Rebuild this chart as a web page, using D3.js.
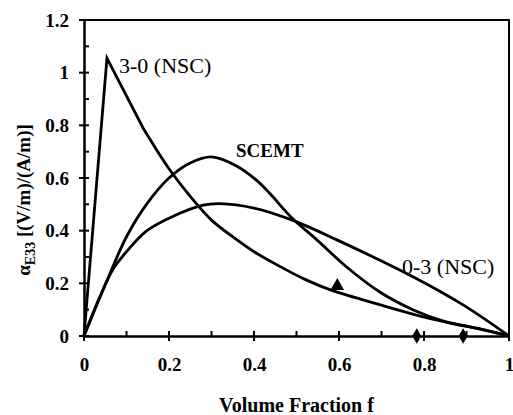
<!DOCTYPE html>
<html>
<head>
<meta charset="utf-8">
<script src="https://cdn.jsdelivr.net/npm/d3@7"></script>
<style>
  body { margin: 0; background: #fff; }
  svg { display: block; }
</style>
</head>
<body>
<svg id="chart" width="513" height="415"></svg>
<script>
// volume fraction / coefficient pairs
const nscF30 = [0, 0.054, 0.139, 0.2, 0.25, 0.3, 0.36, 0.4, 0.46, 0.52, 0.58, 0.7, 0.81, 0.93, 1.0];
const nscV30 = [0, 1.055, 0.79, 0.635, 0.53, 0.44, 0.365, 0.32, 0.265, 0.215, 0.175, 0.117, 0.068, 0.027, 0];

const scemtF = [0, 0.054, 0.1, 0.147, 0.2, 0.25, 0.3, 0.36, 0.407, 0.438, 0.49, 0.548, 0.618, 0.696, 0.775, 0.853, 0.932, 1.0];
const scemtV = [0, 0.21, 0.377, 0.5, 0.6, 0.657, 0.68, 0.645, 0.59, 0.54, 0.447, 0.365, 0.262, 0.167, 0.099, 0.053, 0.027, 0];

const nscF03 = [0, 0.035, 0.069, 0.1, 0.148, 0.21, 0.28, 0.32, 0.4, 0.49, 0.595, 0.775, 0.892, 1.0];
const nscV03 = [0, 0.14, 0.255, 0.32, 0.4, 0.455, 0.497, 0.503, 0.486, 0.44, 0.365, 0.224, 0.118, 0];

// measured points
const triF = [0.596];
const triV = [0.19];
const diaF = [0.783, 0.892];
const diaV = [0, 0];

const xTicks = [0, 0.2, 0.4, 0.6, 0.8, 1];
const yTicks = [0, 0.2, 0.4, 0.6, 0.8, 1, 1.2];

const FONT = "'Liberation Serif', 'DejaVu Serif', 'Times New Roman', serif";

const svg = d3.select('#chart');
const mLeft = 84, mTop = 20, mRight = 509, mBottom = 336;

const x = d3.scaleLinear().domain([0, 1]).range([mLeft, mRight]);
const y = d3.scaleLinear().domain([0, 1.2]).range([mBottom, mTop]);

const zip = (fs, vs) => fs.map((f, i) => [f, vs[i]]);
const fmt = d => d === 0 || d === 1 ? d3.format('d')(d) : d3.format('.1f')(d);

// frame (top and right)
svg.append('path')
  .attr('d', `M${mLeft},${mTop}H${mRight}V${mBottom}`)
  .attr('fill', 'none')
  .attr('stroke', '#000')
  .attr('stroke-width', 2);

// x axis
const xAxis = svg.append('g').attr('transform', `translate(0,${mBottom})`);
xAxis.call(d3.axisBottom(x).tickValues(xTicks).tickSize(0).tickPadding(22).tickFormat(fmt));
xAxis.attr('font-size', 19).attr('font-weight', 'bold');
xAxis.selectAll('text').style('font-family', FONT);
xAxis.select('.domain').attr('stroke-width', 2.5);
xAxis.selectAll('.tick line').remove();

const xt = svg.append('g');
d3.range(0, 11).forEach(i => {
  const v = i / 10;
  const major = i % 2 === 0;
  xt.append('line')
    .attr('x1', x(v)).attr('x2', x(v))
    .attr('y1', mBottom - 5).attr('y2', major ? mBottom + 5 : mBottom)
    .attr('stroke', '#000').attr('stroke-width', 2);
});

// y axis
const yAxis = svg.append('g').attr('transform', `translate(${mLeft},0)`);
yAxis.call(d3.axisLeft(y).tickValues(yTicks).tickSize(0).tickPadding(15).tickFormat(fmt));
yAxis.attr('font-size', 19).attr('font-weight', 'bold');
yAxis.selectAll('text').style('font-family', FONT);
yAxis.select('.domain').attr('stroke-width', 2.5);
yAxis.selectAll('.tick line').remove();

const yt = svg.append('g');
d3.range(0, 13).forEach(i => {
  const v = i / 10;
  const major = i % 2 === 0;
  yt.append('line')
    .attr('y1', y(v)).attr('y2', y(v))
    .attr('x1', major ? mLeft - 5 : mLeft).attr('x2', mLeft + 5)
    .attr('stroke', '#000').attr('stroke-width', 2);
});

// curves
const lineLin = d3.line().x(d => x(d[0])).y(d => y(d[1]));
const lineSmooth = d3.line().x(d => x(d[0])).y(d => y(d[1])).curve(d3.curveCatmullRom.alpha(0.5));

const p30 = zip(nscF30, nscV30);
svg.append('path')
  .attr('d', lineLin(p30.slice(0, 3)) + lineSmooth(p30.slice(2)).replace(/^M/, 'L'))
  .attr('fill', 'none').attr('stroke', '#000').attr('stroke-width', 2.8)
  .attr('stroke-linejoin', 'miter');

svg.append('path')
  .attr('d', lineSmooth(zip(scemtF, scemtV)))
  .attr('fill', 'none').attr('stroke', '#000').attr('stroke-width', 2.8);

svg.append('path')
  .attr('d', lineSmooth(zip(nscF03, nscV03)))
  .attr('fill', 'none').attr('stroke', '#000').attr('stroke-width', 2.8);

// markers
svg.selectAll('.tri')
  .data(zip(triF, triV))
  .enter().append('path')
  .attr('class', 'tri')
  .attr('transform', d => `translate(${x(d[0])},${y(d[1])})`)
  .attr('d', d3.symbol().type(d3.symbolTriangle).size(80))
  .attr('fill', '#000');

svg.selectAll('.dia')
  .data(zip(diaF, diaV))
  .enter().append('path')
  .attr('class', 'dia')
  .attr('transform', d => `translate(${x(d[0])},${y(d[1])})`)
  .attr('d', d3.symbol().type(d3.symbolDiamond).size(70))
  .attr('fill', '#000');

// curve labels
const lab = svg.append('g');
lab.append('text').attr('x', 119).attr('y', 73)
  .attr('font-size', 22).text('3-0 (NSC)');
lab.append('text').attr('x', 236).attr('y', 157)
  .attr('font-size', 19).attr('font-weight', 'bold').text('SCEMT');
lab.append('text').attr('x', 402).attr('y', 274)
  .attr('font-size', 22).text('0-3 (NSC)');

// axis titles
lab.append('text')
  .attr('x', (mLeft + mRight) / 2).attr('y', 412)
  .attr('text-anchor', 'middle')
  .attr('font-size', 20).attr('font-weight', 'bold')
  .text('Volume Fraction f');

const yl = lab.append('text')
  .attr('transform', 'translate(30,200) rotate(-90)')
  .attr('text-anchor', 'middle')
  .attr('font-size', 19).attr('font-weight', 'bold');
yl.append('tspan').text('α');
yl.append('tspan').attr('dy', 5).attr('font-size', 14).text('E33');
yl.append('tspan').attr('dy', -5).text('  [(V/m)/(A/m)]');

lab.selectAll('text').style('font-family', FONT);
</script>
</body>
</html>
